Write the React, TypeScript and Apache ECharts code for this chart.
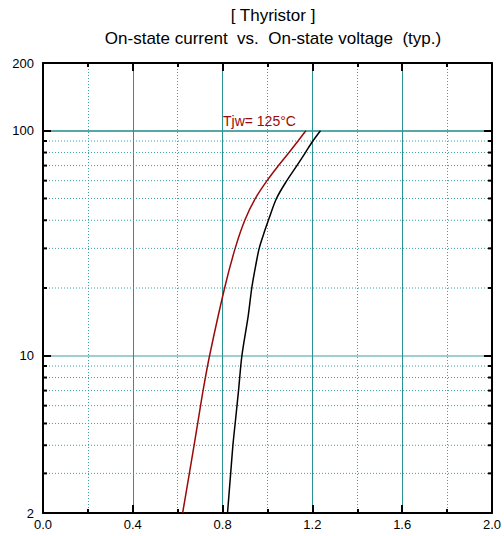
import React, { useEffect, useRef } from "react";
import * as echarts from "echarts";

const titleLines = ["[ Thyristor ]", "On-state current  vs.  On-state voltage  (typ.)"];
const seriesLabel = "Tjw= 125°C";

// Tj = 125°C curve (red)
const voltHot = [0.622, 0.652, 0.673, 0.689, 0.713, 0.742, 0.809, 0.856, 0.899, 0.946, 0.998, 1.049, 1.096, 1.136, 1.171];
const currHot = [2, 3, 4, 5, 7, 10, 20, 30, 40, 50, 60, 70, 80, 90, 100];

// Tj = 25°C curve (black)
const voltCold = [0.822, 0.836, 0.846, 0.856, 0.871, 0.886, 0.914, 0.930, 0.947, 0.963, 0.984, 1.004, 1.040, 1.086, 1.131, 1.169, 1.202, 1.236];
const currCold = [2, 3, 4, 5, 7, 10, 15, 20, 25, 30, 35, 40, 50, 60, 70, 80, 90, 100];

const xMin = 0;
const xMax = 2.0;
const xMajor = 0.4;
const yMin = 2;
const yMax = 200;
const minorY = [3, 4, 5, 6, 7, 8, 9, 20, 30, 40, 50, 60, 70, 80, 90];

const FONT = "'Liberation Sans', Arial, Helvetica, sans-serif";
const TEAL = "#2a9292";
const DOT = "#3aa0a0";
const RED = "#9a0a0a";

export default function App() {
  const ref = useRef<HTMLDivElement>(null);
  useEffect(() => {
    if (!ref.current) return;
    const chart = echarts.init(ref.current, undefined, { renderer: "svg" });
    const xCommon = {
      type: "value" as const,
      min: xMin,
      max: xMax,
      interval: xMajor,
      axisLine: { show: true, onZero: false, lineStyle: { color: "#000", width: 2 } },
      axisTick: { show: true, inside: true, length: 8, lineStyle: { color: "#000", width: 2 } },
      minorTick: { show: true, splitNumber: 2, length: 4, lineStyle: { color: "#000", width: 2 } },
    };
    const yCommon = {
      type: "log" as const,
      logBase: 10,
      min: yMin,
      max: yMax,
      axisLine: { show: true, onZero: false, lineStyle: { color: "#000", width: 2 } },
      axisTick: { show: true, inside: true, length: 8, lineStyle: { color: "#000", width: 2 } },
    };
    chart.setOption({
      animation: false,
      backgroundColor: "#fff",
      title: {
        text: titleLines.join("\n"),
        left: 273,
        top: 4,
        padding: 0,
        textAlign: "center",
        textStyle: { fontFamily: FONT, fontSize: 17, fontWeight: "normal", color: "#000", lineHeight: 23 },
      },
      grid: { left: 43, top: 63, width: 450, height: 450, containLabel: false },
      xAxis: [
        {
          ...xCommon,
          position: "bottom",
          axisLabel: {
            show: true,
            fontFamily: FONT,
            fontSize: 13,
            color: "#000",
            margin: 5,
            formatter: (v: number) => v.toFixed(1),
          },
          splitLine: { show: true, lineStyle: { color: TEAL, width: 1 } },
          minorSplitLine: { show: true, lineStyle: { color: DOT, width: 1, type: [1, 2] } },
        },
        {
          ...xCommon,
          position: "top",
          axisLabel: { show: false },
          splitLine: { show: false },
        },
      ],
      yAxis: [
        {
          ...yCommon,
          position: "left",
          axisLabel: { show: true, fontFamily: FONT, fontSize: 13, color: "#000", margin: 9 },
          splitLine: {
            show: true,
            lineStyle: { color: [TEAL, "#7fc0c0", "#1f8a8a", TEAL], width: 1.5 },
          },
        },
        {
          ...yCommon,
          position: "right",
          axisLabel: { show: false },
          splitLine: { show: false },
        },
      ],
      graphic: [
        {
          type: "text",
          x: 223,
          y: 121,
          style: {
            text: seriesLabel,
            fill: RED,
            font: `14px ${FONT}`,
            textVerticalAlign: "middle",
          },
          z: 10,
        },
      ],
      series: [
        {
          type: "custom",
          xAxisIndex: 0,
          yAxisIndex: 0,
          z: 1,
          silent: true,
          clip: false,
          data: minorY.map((v) => [xMin, v]),
          renderItem: (params: any, api: any) => {
            const v = api.value(1);
            const p0 = api.coord([xMin, v]);
            const p1 = api.coord([xMax, v]);
            return {
              type: "group",
              children: [
                {
                  type: "line",
                  shape: { x1: p0[0], y1: p0[1], x2: p1[0], y2: p1[1] },
                  style: { stroke: DOT, lineWidth: 1, lineDash: [1, 2] },
                },
                {
                  type: "line",
                  shape: { x1: p0[0], y1: p0[1], x2: p0[0] + 4, y2: p0[1] },
                  style: { stroke: "#000", lineWidth: 2 },
                },
                {
                  type: "line",
                  shape: { x1: p1[0] - 4, y1: p1[1], x2: p1[0], y2: p1[1] },
                  style: { stroke: "#000", lineWidth: 2 },
                },
              ],
            };
          },
        },
        {
          type: "line",
          name: "Tjw=125",
          xAxisIndex: 0,
          yAxisIndex: 0,
          z: 3,
          showSymbol: false,
          smooth: 0.3,
          data: voltHot.map((v, i) => [v, currHot[i]]),
          lineStyle: { color: RED, width: 1.5 },
          itemStyle: { color: RED },
        },
        {
          type: "line",
          name: "Tjw=25",
          xAxisIndex: 0,
          yAxisIndex: 0,
          z: 3,
          showSymbol: false,
          smooth: 0.3,
          data: voltCold.map((v, i) => [v, currCold[i]]),
          lineStyle: { color: "#000", width: 1.5 },
          itemStyle: { color: "#000" },
        },
      ],
    });
    return () => chart.dispose();
  }, []);
  return (
    <div
      ref={ref}
      style={{ position: "fixed", left: 0, top: 0, width: 504, height: 536, background: "#fff" }}
    />
  );
}
